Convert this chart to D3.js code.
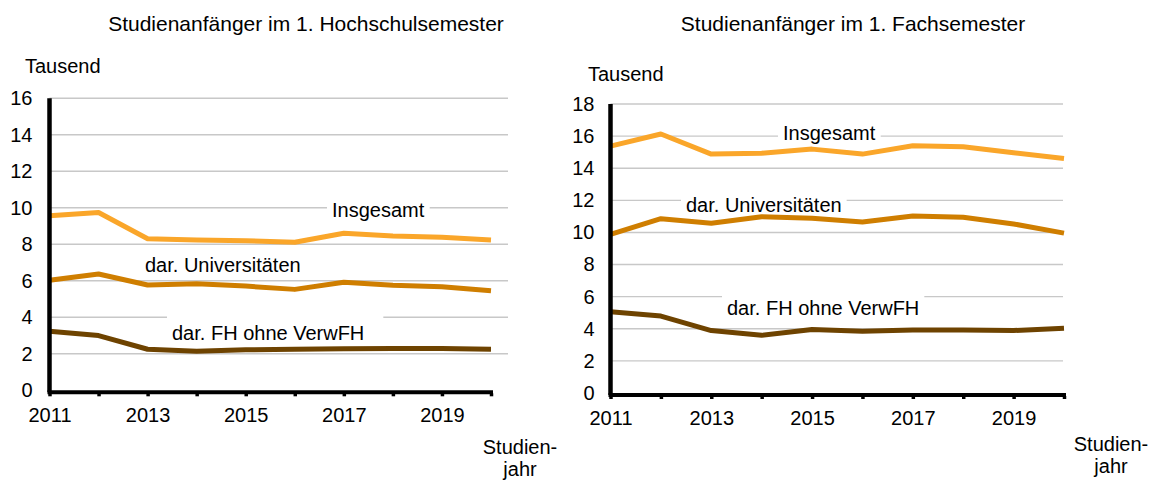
<!DOCTYPE html>
<html>
<head>
<meta charset="utf-8">
<script src="https://cdn.jsdelivr.net/npm/d3@7"></script>
<style>
  html, body { margin: 0; padding: 0; background: #fff; }
  svg { display: block; font-family: "Liberation Sans", Arial, sans-serif; }
</style>
</head>
<body>
<svg id="chart" width="1154" height="481"></svg>
<script>
// ---- Data ----
const years = [2011, 2012, 2013, 2014, 2015, 2016, 2017, 2018, 2019, 2020];
const xTickLabels = [2011, 2013, 2015, 2017, 2019];

// Studienanfänger im 1. Hochschulsemester (Tausend)
const hsInsgesamt = [9.57, 9.74, 8.30, 8.24, 8.20, 8.11, 8.61, 8.46, 8.39, 8.24];
const hsUniversitaeten = [6.03, 6.37, 5.77, 5.84, 5.71, 5.53, 5.92, 5.75, 5.68, 5.46];
const hsFH = [3.24, 3.00, 2.25, 2.14, 2.22, 2.25, 2.27, 2.29, 2.29, 2.25];
const hsYTicks = [0, 2, 4, 6, 8, 10, 12, 14, 16];

// Studienanfänger im 1. Fachsemester (Tausend)
const fsInsgesamt = [15.38, 16.13, 14.88, 14.93, 15.19, 14.88, 15.40, 15.34, 14.97, 14.61];
const fsUniversitaeten = [9.88, 10.86, 10.57, 10.98, 10.89, 10.65, 11.03, 10.94, 10.53, 9.96];
const fsFH = [5.06, 4.79, 3.89, 3.59, 3.95, 3.85, 3.93, 3.93, 3.89, 4.03];
const fsYTicks = [0, 2, 4, 6, 8, 10, 12, 14, 16, 18];

const seriesNames = ["Insgesamt", "dar. Universitäten", "dar. FH ohne VerwFH"];
const colors = ["#FAA62A", "#CF7E00", "#6E4300"];

// ---- Drawing ----
const svg = d3.select("#chart");
const FONT = "Liberation Sans, Arial, sans-serif";

function panel(cfg) {
  const g = svg.append("g");
  const x = d3.scaleLinear().domain([years[0], years[years.length - 1]]).range([cfg.x0, cfg.x1]);
  const y = d3.scaleLinear().domain([0, d3.max(cfg.yTicks)]).range([cfg.y0, cfg.yTop]);

  // title
  g.append("text").attr("x", cfg.titleX).attr("y", 31).attr("text-anchor", "middle")
    .attr("font-size", 21).attr("fill", "#000").text(cfg.title);
  // unit
  g.append("text").attr("x", cfg.unitX).attr("y", cfg.unitY)
    .attr("font-size", 20).attr("fill", "#000").text("Tausend");

  // gridlines
  g.append("g").selectAll("line").data(cfg.yTicks.filter(d => d > 0)).join("line")
    .attr("x1", cfg.x0).attr("x2", cfg.gridEnd)
    .attr("y1", d => y(d)).attr("y2", d => y(d))
    .attr("stroke", "#c8c8c8").attr("stroke-width", 1.4);

  // series labels with white boxes
  cfg.labels.forEach((lb, i) => {
    const t = g.append("text").attr("x", lb.x).attr("y", lb.y)
      .attr("font-size", 20).attr("fill", "#000").text(seriesNames[i]);
    const bb = t.node().getBBox();
    g.insert("rect", () => t.node())
      .attr("x", bb.x - 5).attr("y", bb.y - 6).attr("width", bb.width + 10 + (lb.extra || 0))
      .attr("height", bb.height + 4).attr("fill", "#fff");
  });

  // y axis labels
  const yAxis = d3.axisLeft(y).tickValues(cfg.yTicks).tickSize(0).tickPadding(cfg.yPad).tickFormat(d3.format("d"));
  const ya = g.append("g").attr("transform", `translate(${cfg.x0},0)`).call(yAxis);
  ya.select(".domain").remove();
  ya.selectAll("text").attr("font-size", 20).attr("fill", "#000").attr("font-family", FONT);

  // lines
  const line = d3.line().x((d, i) => x(years[i])).y(d => y(d));
  cfg.series.forEach((s, i) => {
    g.append("path").datum(s).attr("d", line).attr("fill", "none")
      .attr("stroke", colors[i]).attr("stroke-width", 5)
      .attr("stroke-linejoin", "round").attr("stroke-linecap", "butt");
  });

  // x axis
  const xAxis = d3.axisBottom(x).tickValues(years).tickSize(4).tickPadding(12)
    .tickFormat(d => xTickLabels.includes(d) ? d : "");
  const xa = g.append("g").attr("transform", `translate(0,${cfg.y0 + 2})`).call(xAxis);
  xa.select(".domain").attr("d", `M${cfg.x0 - 2},0H${cfg.x1 + 2}`).attr("stroke", "#000").attr("stroke-width", 4);
  xa.selectAll(".tick line").attr("stroke", "#000").attr("stroke-width", 3.5).attr("y1", 1);
  xa.selectAll("text").attr("font-size", 20).attr("fill", "#000").attr("font-family", FONT);

  // y axis line
  g.append("line").attr("x1", cfg.x0).attr("x2", cfg.x0).attr("y1", cfg.yTop).attr("y2", cfg.y0 + 2)
    .attr("stroke", "#000").attr("stroke-width", 4.5);

  // x axis title (two lines)
  g.append("text").attr("x", cfg.studX).attr("y", cfg.studY).attr("text-anchor", "middle")
    .attr("font-size", 20).attr("fill", "#000").text("Studien-");
  g.append("text").attr("x", cfg.studX).attr("y", cfg.studY + 22).attr("text-anchor", "middle")
    .attr("font-size", 20).attr("fill", "#000").text("jahr");
}

panel({
  title: "Studienanfänger im 1. Hochschulsemester", titleX: 306,
  unitX: 25, unitY: 73,
  x0: 49.5, x1: 491, gridEnd: 508, y0: 390.3, yTop: 98.3, yPad: 17,
  yTicks: hsYTicks,
  series: [hsInsgesamt, hsUniversitaeten, hsFH],
  labels: [{x: 332, y: 217}, {x: 145, y: 272}, {x: 172, y: 340, extra: 14}],
  studX: 520, studY: 454
});

panel({
  title: "Studienanfänger im 1. Fachsemester", titleX: 853,
  unitX: 588, unitY: 81,
  x0: 610.5, x1: 1064, gridEnd: 1063, y0: 393, yTop: 104, yPad: 16,
  yTicks: fsYTicks,
  series: [fsInsgesamt, fsUniversitaeten, fsFH],
  labels: [{x: 783, y: 140}, {x: 686, y: 212}, {x: 727, y: 315}],
  studX: 1111, studY: 451
});
</script>
</body>
</html>
